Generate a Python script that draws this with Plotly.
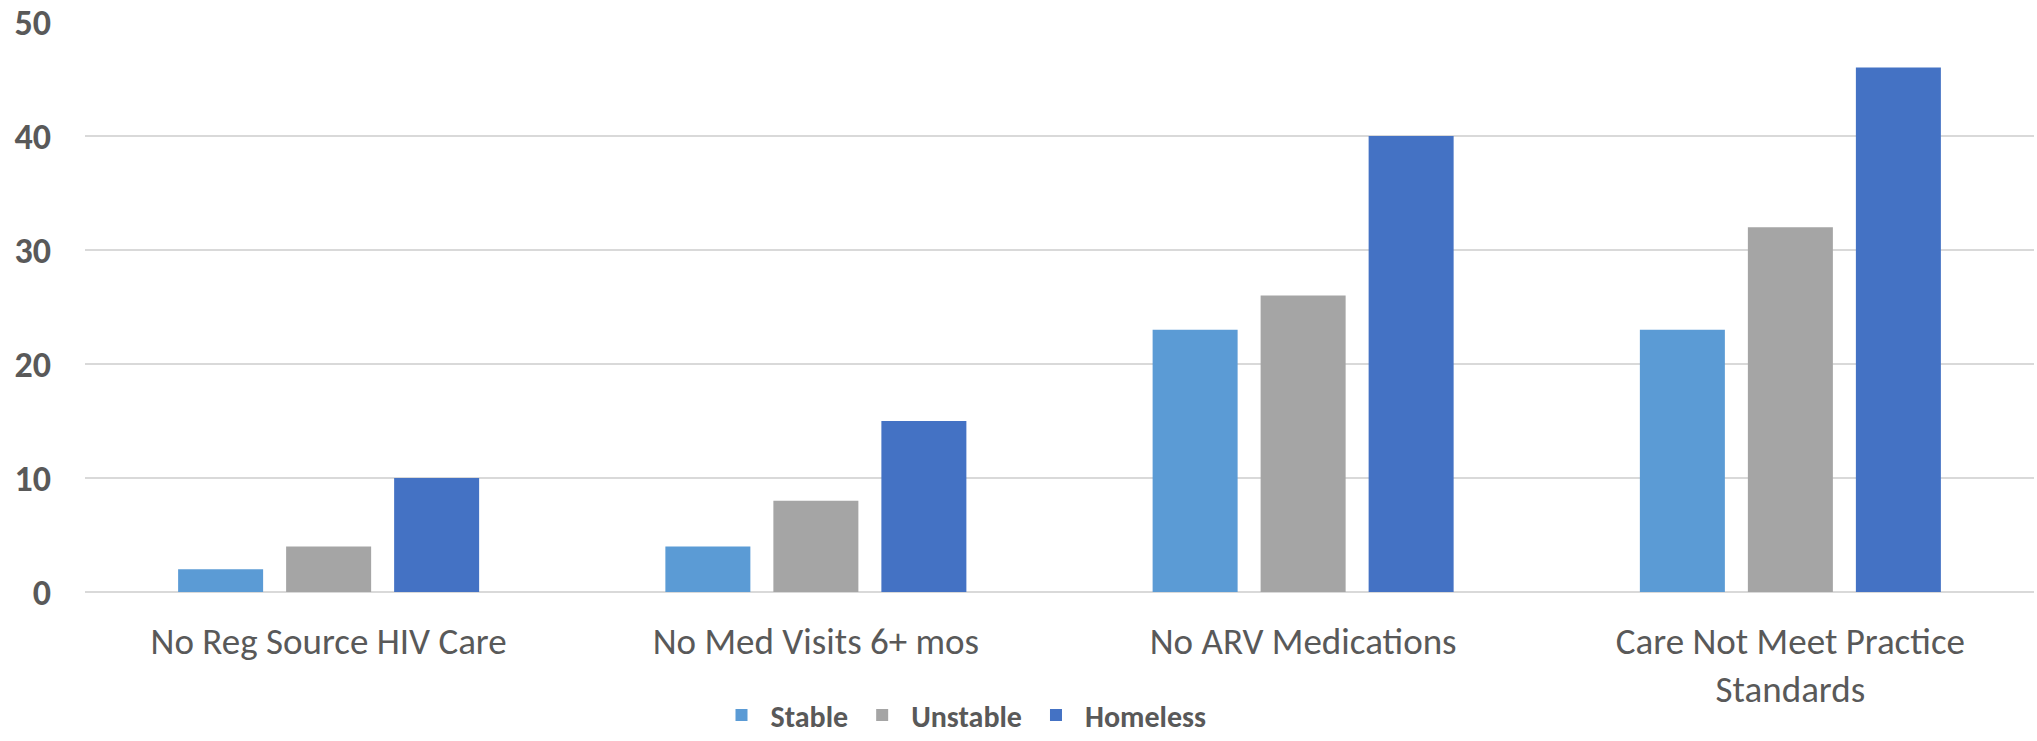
import plotly.graph_objects as go

categories = ["No Reg Source HIV Care", "No Med Visits 6+ mos", "No ARV Medications",
              "Care Not Meet Practice<br>Standards"]
stable = [2, 4, 23, 23]
unstable = [4, 8, 26, 32]
homeless = [10, 15, 40, 46]
y_ticks = [0, 10, 20, 30, 40, 50]

FONT = "Carlito, Calibri, 'Open Sans', sans-serif"
TXT = "#595959"

fig = go.Figure()
for name, vals, col in [("Stable", stable, "#5B9BD5"),
                        ("Unstable", unstable, "#A5A5A5"),
                        ("Homeless", homeless, "#4472C4")]:
    fig.add_trace(go.Bar(name=name, x=categories, y=vals, marker_color=col,
                         marker_line_width=0))

fig.update_layout(
    width=2037, height=741,
    margin=dict(l=85, r=3, t=22, b=149, autoexpand=False),
    paper_bgcolor="white", plot_bgcolor="white",
    barmode="group", bargap=0.335, bargroupgap=0.213,
    font=dict(family=FONT, color=TXT),
    legend=dict(orientation="h", x=962 / 2037, xref="container", xanchor="center",
                y=0, yref="container", yanchor="bottom",
                font=dict(size=30, family=FONT, color=TXT, weight="bold"),
                itemwidth=48, traceorder="normal"),
)
fig.update_xaxes(showgrid=False, showline=False, ticks="", ticklabelstandoff=24,
                 automargin=False,
                 tickfont=dict(size=37, family=FONT, color=TXT))
fig.update_yaxes(range=[0, 50], tickvals=y_ticks, showgrid=True, gridcolor="#D9D9D9",
                 gridwidth=1.5, zeroline=True, zerolinecolor="#D9D9D9", zerolinewidth=1.5,
                 ticks="", ticklabelstandoff=33, automargin=False,
                 tickfont=dict(size=36, family=FONT, color=TXT, weight="bold"))

fig.write_html("out.html")
